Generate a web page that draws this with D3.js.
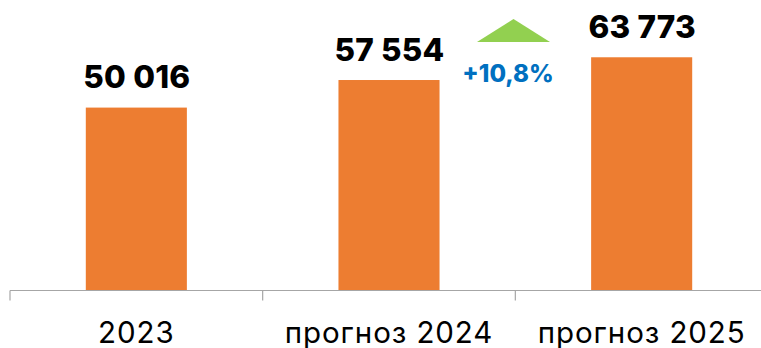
<!DOCTYPE html>
<html>
<head>
<meta charset="utf-8">
<script src="https://cdn.jsdelivr.net/npm/d3@7"></script>
<style>
  html, body { margin: 0; padding: 0; background: #fff; }
  svg { display: block; }
</style>
</head>
<body>
<div id="chart"></div>
<script>
// Values by period
const categories = ["2023", "прогноз 2024", "прогноз 2025"];
const values = [50016, 57554, 63773];
const growthLabel = "+10,8%";

const width = 761, height = 348;
const baseY = 290.5;

const svg = d3.select("#chart").append("svg")
  .attr("width", width).attr("height", height);

const x = d3.scaleBand()
  .domain(categories)
  .range([10, 768])
  .paddingInner(0)
  .paddingOuter(0);

const y = d3.scaleLinear()
  .domain([0, 70000])
  .range([baseY, 34.5]);

const barW = x.bandwidth() * 0.4;
const fmt = v => d3.format(",")(v).replace(/,/g, " ");

// Bars
svg.selectAll("rect.bar")
  .data(values)
  .join("rect")
  .attr("class", "bar")
  .attr("x", (d, i) => x(categories[i]) + (x.bandwidth() - barW) / 2)
  .attr("width", barW)
  .attr("y", d => y(d))
  .attr("height", d => y(0) - y(d))
  .attr("fill", "#ed7d31");

// Category axis
const axis = svg.append("g")
  .attr("transform", `translate(0,${baseY})`)
  .call(d3.axisBottom(x).tickSize(0).tickFormat(""));
axis.select(".domain").attr("stroke", "#a6a6a6").attr("stroke-width", 1.2)
  .attr("d", `M10,0H${width}`);

// Tick marks on band boundaries
svg.append("g").selectAll("line")
  .data(categories)
  .join("line")
  .attr("x1", d => x(d)).attr("x2", d => x(d))
  .attr("y1", baseY).attr("y2", baseY + 10)
  .attr("stroke", "#a6a6a6").attr("stroke-width", 1.2);

// Category labels
svg.append("g").selectAll("text")
  .data(categories)
  .join("text")
  .attr("x", d => x(d) + x.bandwidth() / 2)
  .attr("y", 342.5)
  .attr("text-anchor", "middle")
  .attr("font-family", "Inter, 'Open Sans', sans-serif")
  .attr("font-size", 29.5)
  .attr("letter-spacing", 0.9)
  .attr("fill", "#000")
  .text(d => d);

// Value labels
svg.append("g").selectAll("text")
  .data(values)
  .join("text")
  .attr("x", (d, i) => x(categories[i]) + x.bandwidth() / 2 + 0.5)
  .attr("y", d => y(d) - 19.5)
  .attr("text-anchor", "middle")
  .attr("font-family", "Inter, 'Open Sans', sans-serif")
  .attr("font-weight", 800)
  .attr("font-size", 31.5)
  .attr("letter-spacing", 0.2)
  .attr("fill", "#000")
  .text(d => fmt(d));

// Growth marker between the two forecasts
const gx = 513.5;
svg.append("path")
  .attr("d", d3.line()([[gx - 36.5, 42], [gx, 19], [gx + 36.5, 42]]) + "Z")
  .attr("fill", "#92d050");

svg.append("text")
  .attr("x", 508)
  .attr("y", 82)
  .attr("text-anchor", "middle")
  .attr("font-family", "Inter, 'Open Sans', sans-serif")
  .attr("font-weight", 800)
  .attr("font-size", 24)
  .attr("fill", "#0070c0")
  .text(growthLabel);
</script>
</body>
</html>
